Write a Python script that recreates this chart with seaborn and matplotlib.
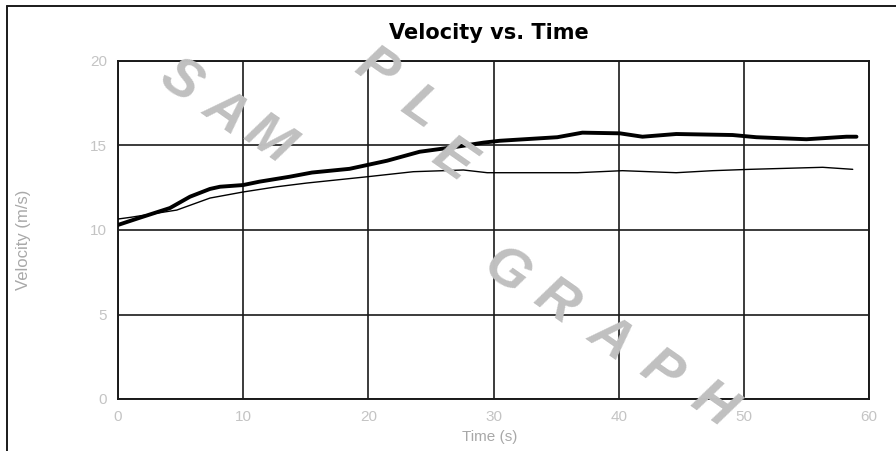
import numpy as np
import pandas as pd
import matplotlib
matplotlib.use("Agg")
import matplotlib.pyplot as plt
import seaborn as sns
from matplotlib.lines import Line2D

# ---- data ----
time_a = [0, 1.76, 4.15, 5.75, 7.35, 8.15, 10.0, 11.3, 13.7, 15.5, 18.5, 21.5,
          24.1, 27.1, 29.2, 30.5, 35.1, 37.1, 40.1, 41.9, 44.6, 49.1, 51.0,
          55.0, 58.2, 59.0]
vel_a = [10.30, 10.73, 11.30, 11.97, 12.43, 12.56, 12.66, 12.86, 13.15, 13.40,
         13.62, 14.10, 14.63, 14.93, 15.17, 15.28, 15.49, 15.76, 15.72, 15.52,
         15.68, 15.62, 15.49, 15.37, 15.52, 15.52]
time_b = [0, 1.0, 4.7, 7.35, 10.0, 12.7, 15.1, 19.9, 23.6, 27.6, 29.5, 36.7,
          40.3, 44.6, 47.5, 50.5, 56.3, 58.7]
vel_b = [10.65, 10.75, 11.18, 11.89, 12.25, 12.56, 12.78, 13.15, 13.45, 13.55,
         13.39, 13.39, 13.51, 13.39, 13.51, 13.59, 13.71, 13.59]
x_ticks = [0, 10, 20, 30, 40, 50, 60]
y_ticks = [0, 5, 10, 15, 20]
title = "Velocity vs. Time"
x_label = "Time (s)"
y_label = "Velocity (m/s)"
watermark = "SAMPLEGRAPH"

df = pd.concat([
    pd.DataFrame({"t": time_a, "v": vel_a, "s": "A"}),
    pd.DataFrame({"t": time_b, "v": vel_b, "s": "B"}),
])

sns.set_style("white")
plt.rcParams['font.family'] = ['Liberation Sans', 'DejaVu Sans']

W, H = 896, 451
fig = plt.figure(figsize=(W / 100, H / 100), dpi=100)
ax = fig.add_axes([118 / W, (H - 399) / H, (869 - 118) / W, (399 - 61) / H])

sns.lineplot(data=df[df.s == "A"], x="t", y="v", ax=ax, color="black",
             linewidth=2.8, estimator=None, sort=False, zorder=4)
sns.lineplot(data=df[df.s == "B"], x="t", y="v", ax=ax, color="black",
             linewidth=1.0, estimator=None, sort=False, zorder=4)

ax.set_xlim(x_ticks[0], x_ticks[-1])
ax.set_ylim(y_ticks[0], y_ticks[-1])
ax.set_xticks(x_ticks)
ax.set_yticks(y_ticks)
ax.set_xticklabels([str(v) for v in x_ticks], color="#c4c4c4", fontsize=11)
ax.set_yticklabels([str(v) for v in y_ticks], color="#c4c4c4", fontsize=11)
ax.tick_params(length=0, pad=8)
ax.grid(True, color="#1a1a1a", linewidth=1.2)
ax.set_axisbelow(True)
for sp in ax.spines.values():
    sp.set_visible(True)
    sp.set_color("#1a1a1a")
    sp.set_linewidth(1.4)
ax.set_xlabel("")
ax.set_ylabel("")

fig.text(489 / W, 1 - 33 / H, title, ha="center", va="center",
         fontsize=15, fontweight="bold", color="black",
         family=["DejaVu Sans"])
fig.text(490 / W, 1 - 437 / H, x_label, ha="center", va="center",
         fontsize=11, color="#a8a8a8")
fig.text(24 / W, 1 - 240 / H, y_label, ha="center", va="center",
         fontsize=12, color="#a8a8a8", rotation=90)

# watermark letters
pos = [(180, 82), (225, 112), (268, 140), (375, 70), (420, 108), (452, 160),
       (505, 272), (555, 302), (610, 338), (660, 372), (712, 405)]
for ch, (px, py) in zip(watermark, pos):
    fig.text(px / W, 1 - py / H, ch, ha="center", va="center", fontsize=40,
             fontweight="bold", fontstyle="italic", color="#c0c0c0",
             rotation=-35, zorder=10)

# outer frame lines (left and top)
fig.add_artist(Line2D([7 / W, 7 / W], [0, 1 - 6 / H], color="#1a1a1a",
                      linewidth=1.4, transform=fig.transFigure))
fig.add_artist(Line2D([7 / W, 1], [1 - 6 / H, 1 - 6 / H], color="#1a1a1a",
                      linewidth=1.4, transform=fig.transFigure))

fig.savefig("out.png", dpi=100)
